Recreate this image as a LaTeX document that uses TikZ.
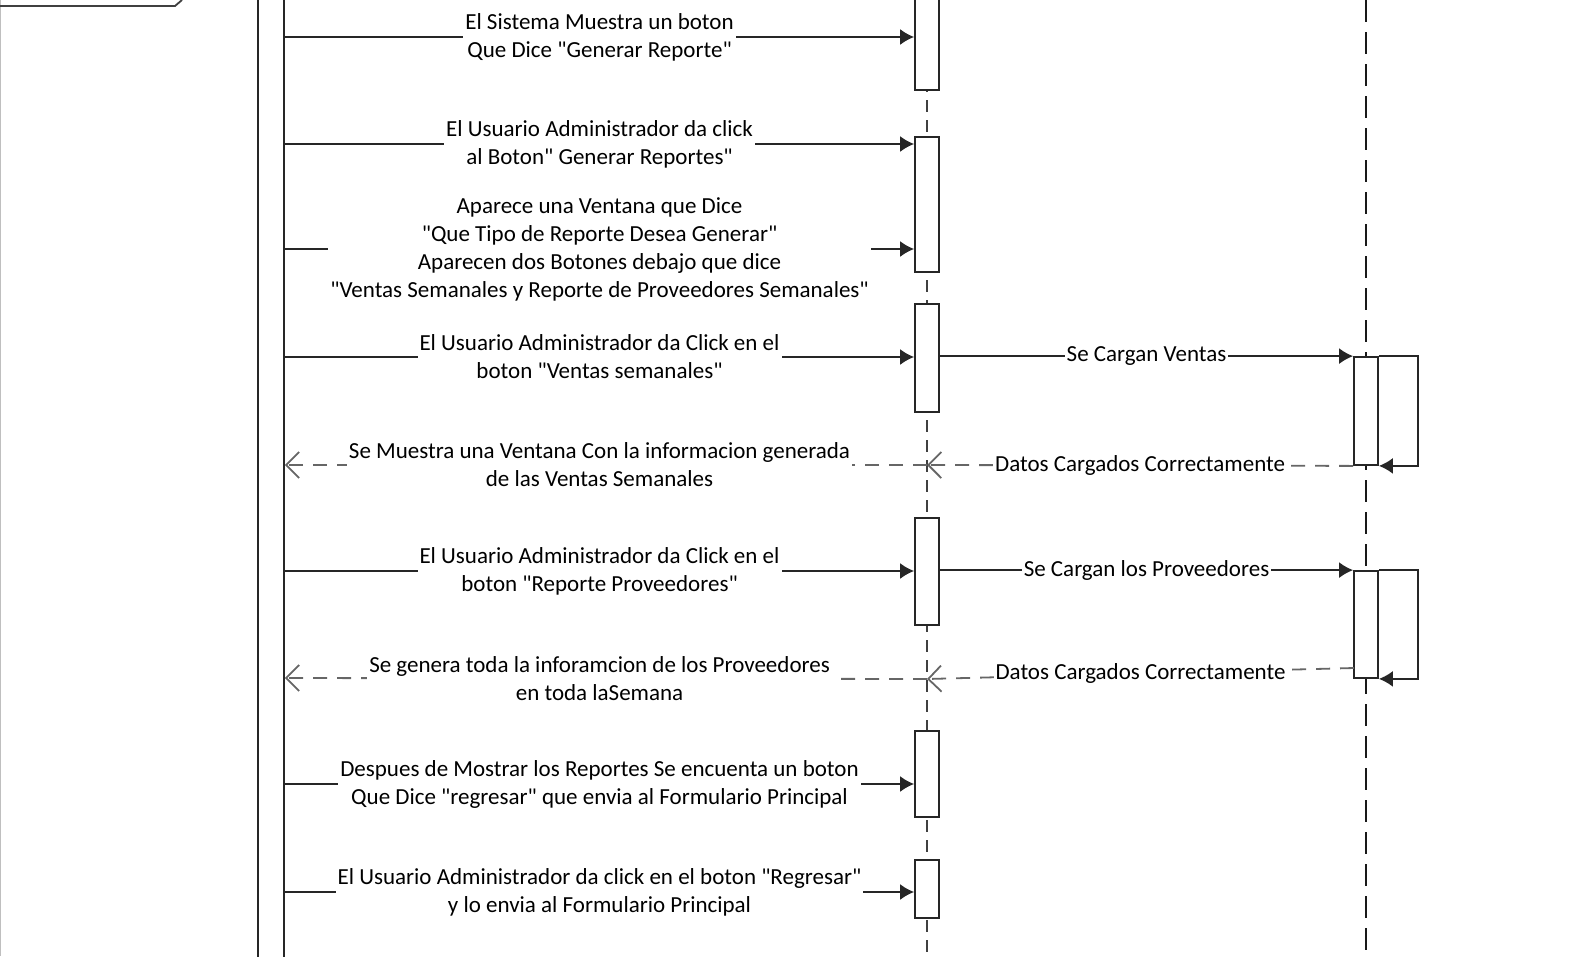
\documentclass[tikz,border=0pt]{standalone}
\usepackage{fontspec}
\setmainfont{Carlito}[Ligatures=TeXOff]
\usetikzlibrary{arrows.meta, positioning}

\begin{document}
\begin{tikzpicture}[x=1pt, y=-1pt, line width=1.8pt,
    act/.style={draw=black!85, fill=white, minimum width=24pt, inner sep=0pt},
    msg/.style={draw=black!85, -{Latex[length=14pt, width=16pt]}},
    ret/.style={draw=black!60, -{Straight Barb[length=13pt, width=26pt]}, dash pattern=on 14pt off 10pt},
    lbl/.style={fill=white, align=center, inner sep=2pt, font=\fontsize{23}{28}\selectfont}]
    \useasboundingbox (0,0) rectangle (1590,956);
    \clip (0,0) rectangle (1590,956);

    % frame edge and tag
    \draw[black!25, line width=1pt] (0.5,0) -- (0.5,956);
    \draw[black!75] (0,6) -- (175,6) -- (182,0);

    % lifelines
    \draw[black!75, dash pattern=on 12pt off 8pt] (927,0) -- (927,956);
    \draw[black!90, dash pattern=on 22pt off 10pt] (1366,0) -- (1366,956);

    % activation boxes
    \node[act, minimum width=26pt, minimum height=990pt] (adminbar) at (271,478) {};
    \node[act, minimum height=110pt] (act1) at (927,35) {};
    \node[act, minimum height=135pt] (act2) at (927,204.5) {};
    \node[act, minimum height=108pt] (act3) at (927,358) {};
    \node[act, minimum height=107pt] (act4) at (927,571.5) {};
    \node[act, minimum height=86pt] (act5) at (927,774) {};
    \node[act, minimum height=58pt] (act6) at (927,889) {};
    \node[act, minimum height=108pt] (carga1) at (1366,411) {};
    \node[act, minimum height=107pt] (carga2) at (1366,624.5) {};

    % coordinates of the messages
    \coordinate (m1) at (0,37);
    \coordinate (m2) at (0,144);
    \coordinate (m3) at (0,249);
    \coordinate (m4) at (0,357);
    \coordinate (m5) at (0,465);
    \coordinate (m6) at (0,571);
    \coordinate (m7) at (0,678);
    \coordinate (m8) at (0,784);
    \coordinate (m9) at (0,892);
    \coordinate (r2a) at (1354,668);
    \coordinate (r2b) at (927,679);

    % messages from the user
    \draw[msg] (adminbar.east |- m1) -- node[lbl] {El Sistema Muestra un boton\\Que Dice "Generar Reporte"} (act1.west |- m1);
    \draw[msg] (adminbar.east |- m2) -- node[lbl] {El Usuario Administrador da click\\al Boton" Generar Reportes"} (act2.west |- m2);
    \draw[msg] (adminbar.east |- m3) -- node[lbl] {Aparece una Ventana que Dice\\"Que Tipo de Reporte Desea Generar"\\Aparecen dos Botones debajo que dice\\"Ventas Semanales y Reporte de Proveedores Semanales"} (act2.west |- m3);
    \draw[msg] (adminbar.east |- m4) -- node[lbl] {El Usuario Administrador da Click en el\\boton "Ventas semanales"} (act3.west |- m4);
    \draw[msg] (adminbar.east |- m6) -- node[lbl] {El Usuario Administrador da Click en el\\boton "Reporte Proveedores"} (act4.west |- m6);
    \draw[msg] (adminbar.east |- m8) -- node[lbl] {Despues de Mostrar los Reportes Se encuenta un boton\\Que Dice "regresar" que envia al Formulario Principal} (act5.west |- m8);
    \draw[msg] (adminbar.east |- m9) -- node[lbl] {El Usuario Administrador da click en el boton "Regresar"\\y lo envia al Formulario Principal} (act6.west |- m9);

    % calls to the data
    \draw[msg] (act3.east |- carga1.north) -- node[lbl] {Se Cargan Ventas} (carga1.north west);
    \draw[msg] (carga1.north east) -- ++(39,0) |- (carga1.south east);
    \draw[ret] (carga1.south west) -- node[lbl] {Datos Cargados Correctamente} (act3.south |- m5);
    \draw[ret] (act3.south |- m5) -- node[lbl, pos=0.51] {Se Muestra una Ventana Con la informacion generada\\de las Ventas Semanales} (adminbar.east |- m5);

    \draw[msg] (act4.east |- carga2.north) -- node[lbl] {Se Cargan los Proveedores} (carga2.north west);
    \draw[msg] (carga2.north east) -- ++(39,0) |- (carga2.south east);
    \draw[ret] (r2a) -- node[lbl] {Datos Cargados Correctamente} (r2b);
    \draw[ret] (r2b) -- node[lbl, pos=0.51] {Se genera toda la inforamcion de los Proveedores\\en toda laSemana} (adminbar.east |- m7);
\end{tikzpicture}
\end{document}
